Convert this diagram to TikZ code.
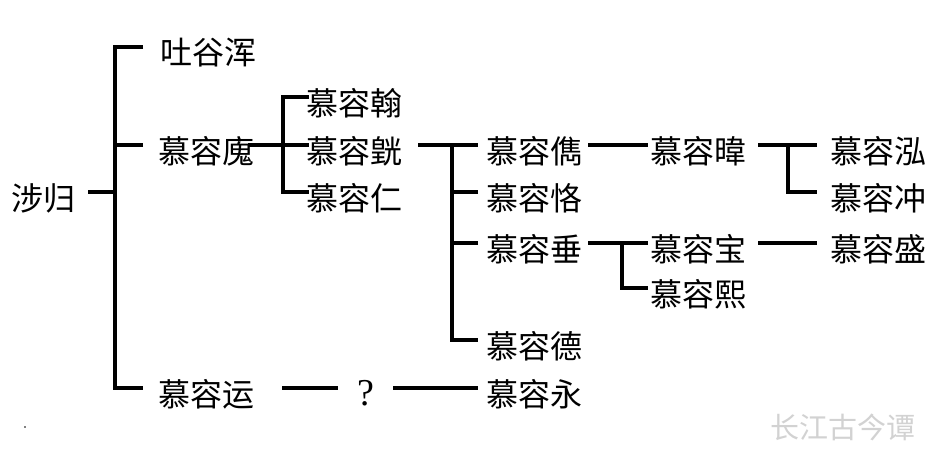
\documentclass[tikz,border=0pt]{standalone}
\usepackage{fontspec}
\newfontfamily\cjk{Noto Sans CJK SC}
\newfontfamily\qfont{Liberation Serif}
\begin{document}
\begin{tikzpicture}[x=1pt,y=-1pt,
  person/.style={anchor=west,inner sep=0pt,outer sep=0pt,font=\cjk\fontsize{32}{32}\selectfont},
  ln/.style={line width=3.4pt,line join=miter,line cap=butt},
  qmark/.style={inner sep=0pt,font=\qfont\fontsize{38}{38}\selectfont},
  wm/.style={anchor=west,inner sep=0pt,text=gray!35,font=\cjk\fontsize{29}{29}\selectfont}]
\useasboundingbox[fill=white] (0,0) rectangle (945,461);
% names
\node[person] (sg) at (12,198) {涉归};
\node[person] (tyh) at (160,53) {吐谷浑};
\node[person] (mrgui) at (158,151) {慕容廆};
\node[person] (mryun) at (158,394) {慕容运};
\node[person] (mrhan) at (306,103) {慕容翰};
\node[person] (mrhuang) at (306,151) {慕容皝};
\node[person] (mrren) at (306,198) {慕容仁};
\node[person] (mrjun) at (486,151) {慕容儁};
\node[person] (mrke) at (486,198) {慕容恪};
\node[person] (mrchui) at (486,249) {慕容垂};
\node[person] (mrde) at (486,346) {慕容德};
\node[person] (mryong) at (486,394) {慕容永};
\node[person] (mrwei) at (650,151) {慕容暐};
\node[person] (mrbao) at (650,249) {慕容宝};
\node[person] (mrxi) at (650,294) {慕容熙};
\node[person] (mrhong) at (830,151) {慕容泓};
\node[person] (mrchong) at (830,198) {慕容冲};
\node[person] (mrsheng) at (830,249) {慕容盛};
\node[qmark] (q) at (366,393) {?};
\node[wm] (wmk) at (770,427) {长江古今谭};
\fill (25,427) circle (0.8);
% junction points
\coordinate (j1) at (115,192);
\coordinate (j2) at (283,145);
\coordinate (j3) at (452,145);
\coordinate (j4) at (622,243);
\coordinate (j5) at (788,145);
% branch ends
\coordinate (e-gui) at ([xshift=-15pt,yshift=6pt]mrgui.west);
\coordinate (e-ke) at ([xshift=-8pt,yshift=6pt]mrke.west);
\coordinate (e-chui) at ([xshift=-8pt,yshift=6pt]mrchui.west);
\coordinate (qa) at (282,388);
\coordinate (qb) at (338,388);
\coordinate (qc) at (393,388);
% generation 1
\draw[ln] ([xshift=12pt,yshift=6pt]sg.east) -- (j1);
\draw[ln] ([xshift=-17pt,yshift=6pt]tyh.west) -| (j1) |- ([xshift=-15pt,yshift=6pt]mryun.west);
\draw[ln] (e-gui) -- (j1 |- e-gui);
% generation 2
\draw[ln] ([xshift=-6pt,yshift=6pt]mrgui.east) -- ([xshift=3pt,yshift=6pt]mrhuang.west);
\draw[ln] ([xshift=3pt,yshift=6pt]mrhan.west) -| (j2) |- ([xshift=3pt,yshift=6pt]mrren.west);
% generation 3
\draw[ln] ([xshift=16pt,yshift=6pt]mrhuang.east) -- ([xshift=-8pt,yshift=6pt]mrjun.west);
\draw[ln] (j3) |- ([xshift=-8pt,yshift=6pt]mrde.west);
\draw[ln] (e-ke) -- (j3 |- e-ke);
\draw[ln] (e-chui) -- (j3 |- e-chui);
% generation 4
\draw[ln] ([xshift=6pt,yshift=6pt]mrjun.east) -- ([xshift=-2pt,yshift=6pt]mrwei.west);
\draw[ln] ([xshift=6pt,yshift=6pt]mrchui.east) -- ([xshift=-2pt,yshift=6pt]mrbao.west);
\draw[ln] (j4) |- ([xshift=-2pt,yshift=6pt]mrxi.west);
% generation 5
\draw[ln] ([xshift=12pt,yshift=6pt]mrwei.east) -- ([xshift=-13pt,yshift=6pt]mrhong.west);
\draw[ln] (j5) |- ([xshift=-13pt,yshift=6pt]mrchong.west);
\draw[ln] ([xshift=12pt,yshift=6pt]mrbao.east) -- ([xshift=-13pt,yshift=6pt]mrsheng.west);
% uncertain line
\draw[ln] (qa) -- (qb);
\draw[ln] (qc) -- ([xshift=-8pt,yshift=6pt]mryong.west);
\end{tikzpicture}
\end{document}
